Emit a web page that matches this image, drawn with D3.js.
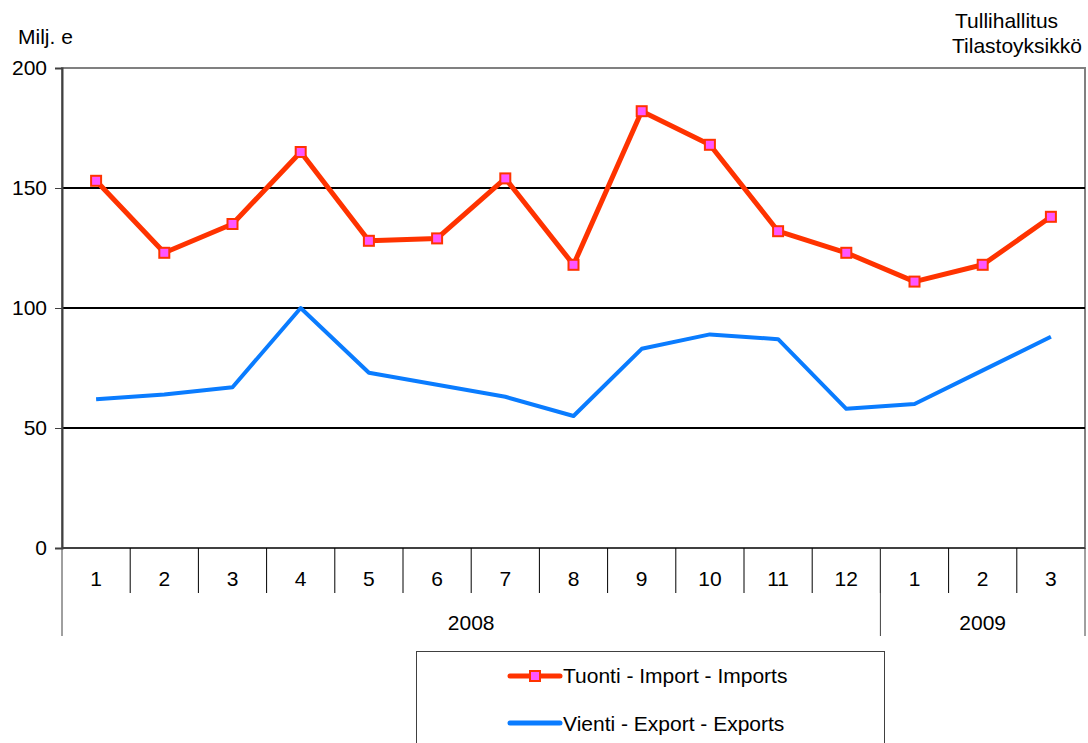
<!DOCTYPE html>
<html>
<head>
<meta charset="utf-8">
<script src="https://cdn.jsdelivr.net/npm/d3@7"></script>
<style>
  body { margin: 0; background: #fff; }
  text { font-family: "Liberation Sans", Arial, sans-serif; fill: #000; }
</style>
</head>
<body>
<script>
// data
var months = ["1", "2", "3", "4", "5", "6", "7", "8", "9", "10", "11", "12", "1", "2", "3"];
var years = [{ label: "2008", count: 12 }, { label: "2009", count: 3 }];
var imports = [153, 123, 135, 165, 128, 129, 154, 118, 182, 168, 132, 123, 111, 118, 138];
var exports = [62, 64, 67, 100, 73, 68, 63, 55, 83, 89, 87, 58, 60, 74, 88];
var yTicks = [0, 50, 100, 150, 200];
var seriesNames = ["Tuonti - Import - Imports", "Vienti - Export - Exports"];

var svgWidth = 1088, svgHeight = 743;
var margin = { top: 68, right: 3, bottom: 195, left: 62 };
var chartWidth = svgWidth - margin.left - margin.right;
var chartHeight = svgHeight - margin.top - margin.bottom;
var fs = 21;

var svg = d3.select("body").append("svg")
  .attr("width", svgWidth)
  .attr("height", svgHeight);

var chartGroup = svg.append("g")
  .attr("transform", `translate(${margin.left}, ${margin.top})`);

// scales
var idx = months.map((d, i) => i);
var xScale = d3.scaleBand()
  .domain(idx)
  .range([0, chartWidth]);

var yScale = d3.scaleLinear()
  .domain([0, 200])
  .range([chartHeight, 0]);

// plot border (top / right grey)
chartGroup.append("rect")
  .attr("x", 0).attr("y", 0)
  .attr("width", chartWidth).attr("height", chartHeight)
  .attr("fill", "none")
  .attr("stroke", "#808080")
  .attr("stroke-width", 2);

// gridlines
chartGroup.selectAll(".grid")
  .data(yTicks.filter(d => d > 0 && d < 200))
  .enter().append("line")
  .attr("x1", 0).attr("x2", chartWidth)
  .attr("y1", d => yScale(d)).attr("y2", d => yScale(d))
  .attr("stroke", "#000")
  .attr("stroke-width", 2);

// y axis
var yAxis = d3.axisLeft(yScale).tickValues(yTicks).tickSize(7).tickPadding(8);
var yg = chartGroup.append("g").call(yAxis);
yg.attr("font-size", null).attr("font-family", null);
yg.select(".domain").attr("stroke", "#404040").attr("stroke-width", 2);
yg.selectAll(".tick line").attr("stroke", "#404040").attr("stroke-width", 1);
yg.selectAll(".tick text")
  .attr("font-size", fs)
  .attr("fill", "#000");

// x baseline
chartGroup.append("line")
  .attr("x1", 0).attr("x2", chartWidth)
  .attr("y1", chartHeight).attr("y2", chartHeight)
  .attr("stroke", "#404040")
  .attr("stroke-width", 2);

// month labels and dividers
var xg = chartGroup.append("g").attr("transform", `translate(0, ${chartHeight})`);
xg.selectAll(".mdiv")
  .data(idx.slice(1))
  .enter().append("line")
  .attr("x1", d => xScale(d)).attr("x2", d => xScale(d))
  .attr("y1", 0).attr("y2", 45)
  .attr("stroke", "#000").attr("stroke-width", 1);

xg.selectAll(".mlabel")
  .data(months)
  .enter().append("text")
  .attr("x", (d, i) => xScale(i) + xScale.bandwidth() / 2)
  .attr("y", 38)
  .attr("text-anchor", "middle")
  .attr("font-size", fs)
  .text(d => d);

// year groups
var start = 0;
var yearPos = years.map(y => {
  var s = start;
  start += y.count;
  return { label: y.label, s: s, e: start };
});
var yearEdges = [0].concat(yearPos.map(y => y.e));
xg.selectAll(".ydiv")
  .data(yearEdges)
  .enter().append("line")
  .attr("x1", d => d < months.length ? xScale(d) : chartWidth)
  .attr("x2", d => d < months.length ? xScale(d) : chartWidth)
  .attr("y1", 0).attr("y2", 88)
  .attr("stroke", "#404040").attr("stroke-width", 1);

xg.selectAll(".ylabel")
  .data(yearPos)
  .enter().append("text")
  .attr("x", d => (xScale(d.s) + (d.e < months.length ? xScale(d.e) : chartWidth)) / 2)
  .attr("y", 82)
  .attr("text-anchor", "middle")
  .attr("font-size", fs)
  .text(d => d.label);

// lines
var line = d3.line()
  .x((d, i) => xScale(i) + xScale.bandwidth() / 2)
  .y(d => yScale(d));

chartGroup.append("path")
  .datum(exports)
  .attr("d", line)
  .attr("fill", "none")
  .attr("stroke", "#0A7CFF")
  .attr("stroke-width", 4)
  .attr("stroke-linejoin", "round");

chartGroup.append("path")
  .datum(imports)
  .attr("d", line)
  .attr("fill", "none")
  .attr("stroke", "#FF3300")
  .attr("stroke-width", 5)
  .attr("stroke-linejoin", "round");

chartGroup.selectAll(".marker")
  .data(imports)
  .enter().append("rect")
  .attr("x", (d, i) => xScale(i) + xScale.bandwidth() / 2 - 5)
  .attr("y", d => yScale(d) - 5)
  .attr("width", 10).attr("height", 10)
  .attr("fill", "#FF55FF")
  .attr("stroke", "#FF3300")
  .attr("stroke-width", 2);

// titles
svg.append("text").attr("x", 18).attr("y", 44).attr("font-size", fs).text("Milj. e");
svg.append("text").attr("x", 955).attr("y", 28).attr("font-size", fs).text("Tullihallitus");
svg.append("text").attr("x", 952).attr("y", 53).attr("font-size", fs).text("Tilastoyksikkö");

// legend
var legend = svg.append("g");
legend.append("rect")
  .attr("x", 416.5).attr("y", 651.5)
  .attr("width", 468).attr("height", 100)
  .attr("fill", "#fff")
  .attr("stroke", "#404040").attr("stroke-width", 1);

legend.append("line")
  .attr("x1", 510).attr("x2", 560).attr("y1", 676).attr("y2", 676)
  .attr("stroke", "#FF3300").attr("stroke-width", 5).attr("stroke-linecap", "round");
legend.append("rect")
  .attr("x", 530).attr("y", 671).attr("width", 10).attr("height", 10)
  .attr("fill", "#FF55FF").attr("stroke", "#FF3300").attr("stroke-width", 2);
legend.append("text").attr("x", 563).attr("y", 683).attr("font-size", fs).text(seriesNames[0]);

legend.append("line")
  .attr("x1", 510).attr("x2", 560).attr("y1", 723).attr("y2", 723)
  .attr("stroke", "#0A7CFF").attr("stroke-width", 5).attr("stroke-linecap", "round");
legend.append("text").attr("x", 563).attr("y", 731).attr("font-size", fs).text(seriesNames[1]);
</script>
</body>
</html>
